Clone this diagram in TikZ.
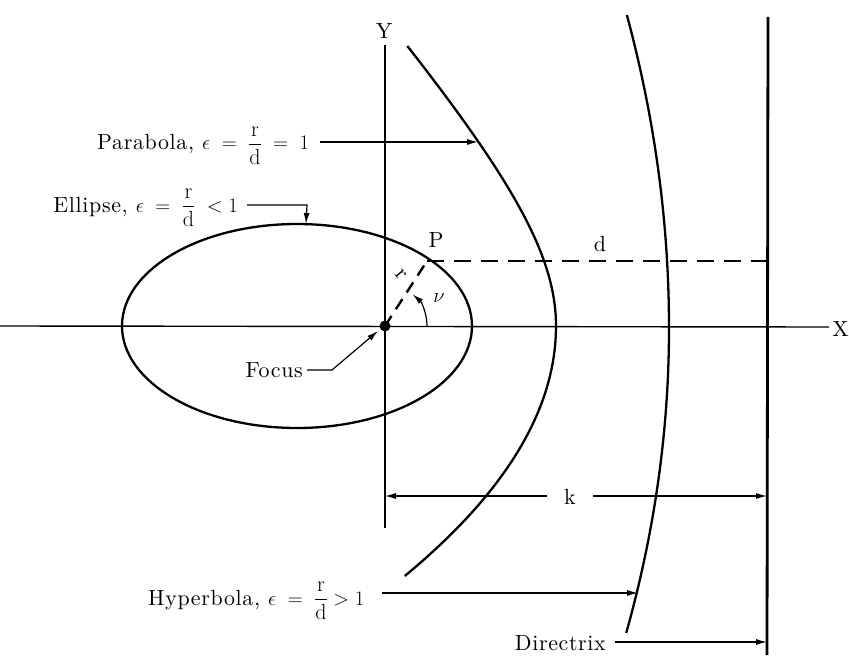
\documentclass[tikz,border=0pt]{standalone}
\usepackage{fontspec}
\usepackage{amsmath}
\usetikzlibrary{arrows.meta}
\newfontfamily\lblfont{lmroman10-regular.otf}[LetterSpace=3]
\begin{document}
\begin{tikzpicture}[x=1bp,y=-1bp,
  lbl/.style={font=\lblfont\fontsize{22}{26}\selectfont, inner sep=0pt},
  axisline/.style={line width=1.4bp},
  curveline/.style={line width=2.3bp},
  tip/.tip={Latex[length=11bp,width=6bp]},
  pointer/.style={line width=1.2bp,-tip},
  dashline/.style={line width=2.2bp,dash pattern=on 17bp off 10bp}]
\useasboundingbox (0,0) rectangle (849,658);
% key points
\coordinate (F) at (385,326);
\coordinate (P) at (427,261);
\coordinate (Xl) at (0,326);
\coordinate (Xr) at (829,327);
\coordinate (Yt) at (385,45);
\coordinate (Yb) at (385,528);
\coordinate (Dt) at (768,17);
\coordinate (Db) at (767,655);
% axes
\draw[axisline] (Xl) -- (Xr);
\draw[axisline] (Yt) -- (Yb);
\node[lbl,anchor=east] (xlab) at (849,329) {X};
\node[lbl] (ylab) at (384,31) {Y};
% ellipse
\draw[curveline] (297,326) ellipse [x radius=175, y radius=102];
% parabola
\draw[curveline] plot[domain=-280:250,samples=80,smooth]
  ({556-(\x<0 ? 133*(sqrt(1+(\x/150)^2)-1) : 24.2*(\x/100)^2)}, {326+\x});
% hyperbola
\draw[curveline] plot[domain=-313:305,samples=80,smooth]
  ({669-(\x<0 ? 4.3 : 4.6)*(\x/100)^2}, {328+\x});
% directrix
\draw[line width=2.8bp] (Dt) -- (Db);
% focus
\fill (F) circle (5.5bp);
% r and d dashed lines
\coordinate (Pd) at (767,261);
\draw[dashline] (P) -- (Pd);
\draw[line width=2.4bp,dash pattern=on 12bp off 8bp] (F) -- (P);
\node[lbl] (plab) at (436,240) {P};
\node[lbl] (dlab) at (600,244) {d};
\node[lbl,rotate=-50] (rlab) at (401,275) {r};
% angle nu
\draw[line width=1.2bp,-tip] ([shift={(0:42)}]F) arc[start angle=0,end angle=-49,radius=42];
\node[lbl] (nulab) at (439,298) {$\nu$};
% k dimension
\coordinate (kl) at (385,496);
\coordinate (kr) at (767,496);
\node[lbl] (klab) at (570,497) {k};
\draw[pointer] (547,496) -- (kl);
\draw[pointer] (593,496) -- (kr);
% labels with pointers
\node[lbl,anchor=base west] (parlab) at (97,150) {Parabola, $\epsilon\;=\;\dfrac{\mathrm{r}}{\mathrm{d}}\;=\;1$};
\coordinate (parstart) at (320,142);
\draw[pointer] (parstart) -- (478,142);
\node[lbl,anchor=base east] (elllab) at (238,212) {Ellipse, $\epsilon\;=\;\dfrac{\mathrm{r}}{\mathrm{d}}\;<1$};
\coordinate (ebend) at (307,205);
\draw[pointer] (247,205) -- (ebend) -- (306,224);
\node[lbl,anchor=base west] (hyplab) at (148,605) {Hyperbola, $\epsilon\;=\;\dfrac{\mathrm{r}}{\mathrm{d}}>1$};
\draw[pointer] (382,593) -- (638,593);
\node[lbl,anchor=east] (foclab) at (303,370) {Focus};
\coordinate (fbend) at (332,370);
\draw[pointer] (foclab.east) ++(4,0) -- (fbend) -- (378,331);
\node[lbl,anchor=east] (dirlab) at (606,643) {Directrix};
\draw[pointer] (615,642) -- (767,642);
\end{tikzpicture}
\end{document}
